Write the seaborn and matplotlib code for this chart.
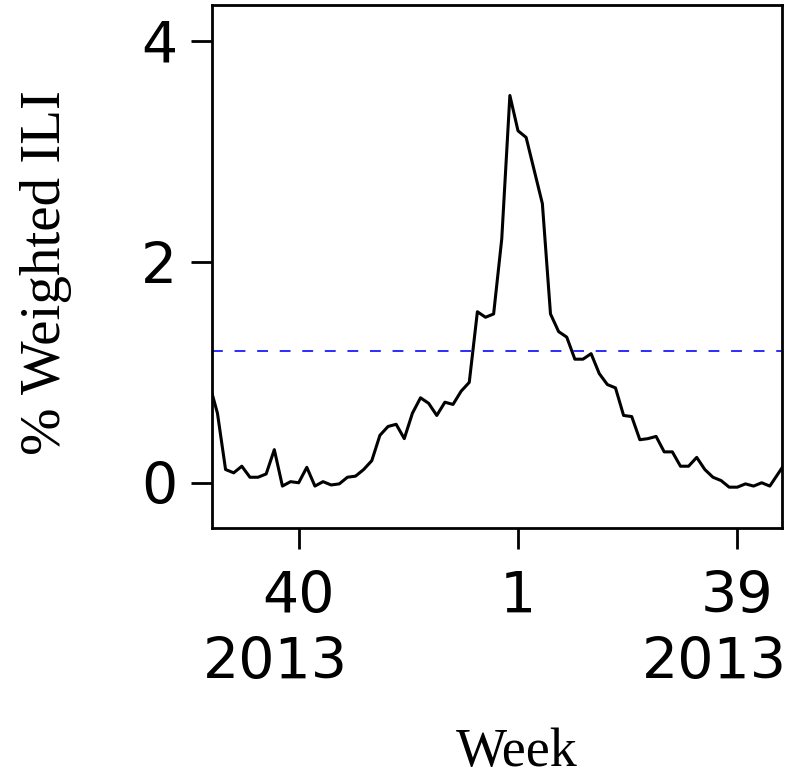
import numpy as np
import pandas as pd
import matplotlib
matplotlib.use("Agg")
import matplotlib.pyplot as plt
import seaborn as sns

# Weekly weighted ILI (%) over the season, one value per week index
week_index = list(range(72))
weighted_ili = [
    0.90, 0.63, 0.12, 0.09, 0.15, 0.05, 0.05, 0.08, 0.30, -0.03,
    0.01, 0.00, 0.14, -0.03, 0.01, -0.02, -0.01, 0.05, 0.06, 0.12,
    0.20, 0.43, 0.51, 0.53, 0.40, 0.63, 0.77, 0.72, 0.61, 0.73,
    0.71, 0.83, 0.91, 1.55, 1.50, 1.53, 2.21, 3.51, 3.19, 3.13,
    2.83, 2.53, 1.53, 1.37, 1.32, 1.12, 1.12, 1.17, 0.99, 0.89,
    0.86, 0.61, 0.60, 0.39, 0.40, 0.42, 0.28, 0.28, 0.15, 0.15,
    0.23, 0.12, 0.05, 0.02, -0.04, -0.04, -0.01, -0.03, 0.00, -0.03,
    0.08, 0.19,
]
baseline = 1.19

tick_positions = [11, 38, 65]
tick_weeks = ["40", "1", "39"]
tick_years = ["2013", "", "2013"]
y_ticks = [0, 2, 4]

df = pd.DataFrame({"week": week_index, "ili": weighted_ili})

sns.set_style("ticks")
plt.rcParams["font.family"] = ["DejaVu Sans"]
plt.rcParams["text.color"] = "black"
plt.rcParams["axes.labelcolor"] = "black"

fig = plt.figure(figsize=(7.88, 7.70), dpi=100)
ax = fig.add_axes([212 / 788, 1 - 528 / 770, (782 - 212) / 788, (528 - 5) / 770])

sns.lineplot(data=df, x="week", y="ili", color="black", linewidth=2.2, ax=ax)
ax.axhline(baseline, color="#1a1aff", linewidth=1.3, linestyle=(0, (6.0, 6.5)))

ax.set_xlim(0.33, 70.5)
ax.set_ylim(-0.41, 4.33)
ax.set_xticks(tick_positions)
ax.set_xticklabels(tick_weeks)
ax.set_yticks(y_ticks)

ax.tick_params(axis="both", labelsize=41, length=15, width=2, colors="black")
ax.tick_params(axis="x", pad=15)
ax.tick_params(axis="y", pad=10)
for spine in ax.spines.values():
    spine.set_linewidth(2)
    spine.set_color("black")

# Year line under the week numbers
for pos, year in zip(tick_positions, tick_years):
    if year:
        ax.annotate(year, xy=(pos, 0), xycoords=("data", "axes fraction"),
                    xytext=(-16.5, -108.5), textcoords="offset points",
                    ha="center", va="baseline", fontsize=41, color="black",
                    annotation_clip=False)

ax.set_xlabel("Week", fontsize=39, family="Liberation Serif", labelpad=74,
              color="black")
ax.xaxis.label.set_x(0.535)
ax.set_ylabel("% Weighted ILI", fontsize=41, family="Liberation Serif", labelpad=50,
              color="black")
ax.yaxis.label.set_y(0.489)

fig.savefig("out.png", dpi=100)
